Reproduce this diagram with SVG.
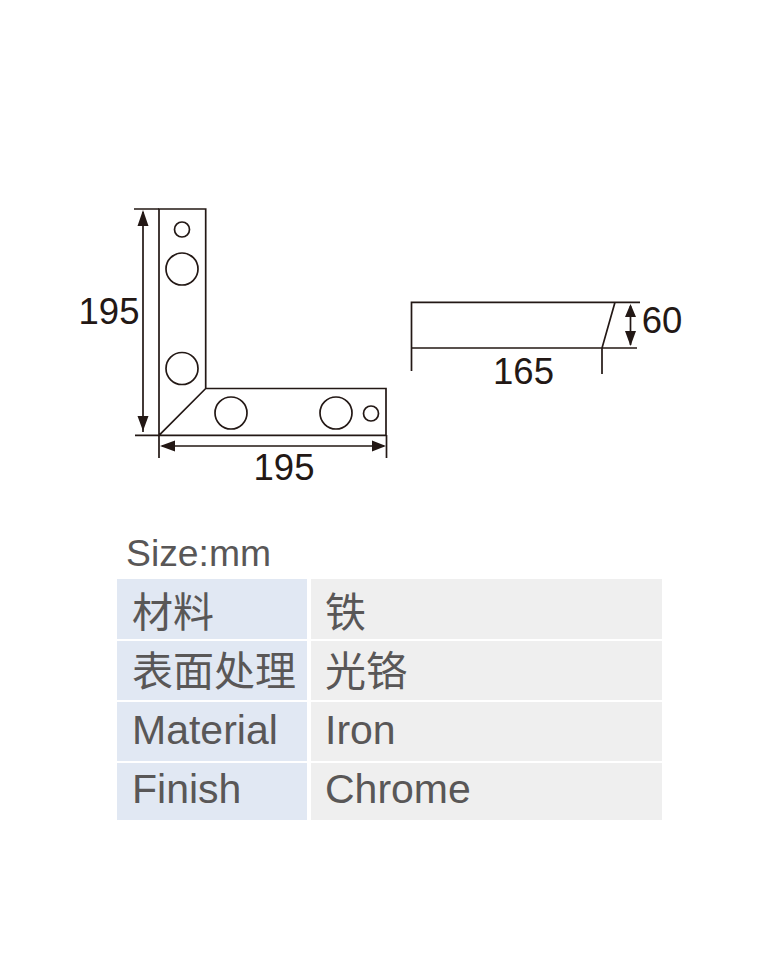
<svg xmlns="http://www.w3.org/2000/svg" width="767" height="972" viewBox="0 0 767 972">
<defs>
<style>
.l{fill:none;stroke:#231815;stroke-width:1.7}
.h{fill:#fff;stroke:#231815;stroke-width:1.7}
.a{fill:#231815;stroke:none}
.d{font-family:"Liberation Sans",Arial,sans-serif;font-size:36.500px;fill:#231815;text-anchor:middle}
.t{font-family:"Liberation Sans","Noto Sans CJK SC",sans-serif;font-size:41px;fill:#595757}
.c{font-family:"Noto Sans CJK SC","Liberation Sans",sans-serif;font-size:41px;fill:#595757}
.b{fill:#e1e8f3}
.g{fill:#efefef}
</style>
</defs>
<rect width="767" height="972" fill="#fff"/>
<g id="bracket">
<path class="l" d="M159 209H205.700V388.500H386V435.300H159ZM205.700 388.500L159 435.300"/>
<circle class="h" cx="182" cy="229.500" r="7.500"/>
<circle class="h" cx="182" cy="269" r="16"/>
<circle class="h" cx="182" cy="368.500" r="16"/>
<circle class="h" cx="231" cy="413" r="16"/>
<circle class="h" cx="336" cy="413" r="16"/>
<circle class="h" cx="371" cy="413.500" r="7.500"/>
</g>
<g id="side-view">
<path class="l" d="M411.500 371V302.300H640M411.500 348H637M615 302.300L602 348V374"/>
</g>
<g id="connectors">
<path class="l" d="M134 209H159M135 435.300H159M143 212V432M159 435V458M386.500 435V458M162 446H384M630.500 306V345"/>
<path class="a" d="M143 210L148.500 226H137.500ZM143 431L137.500 416H148.500ZM160 446L175 440.500V451.500ZM386 446L372 440.500V451.500ZM630.500 304L636 317H625ZM630.500 346L625 331H636Z"/>
</g>
<g id="dimension-labels">
<text class="d" x="109" y="324">195</text>
<text class="d" x="284" y="480">195</text>
<text class="d" x="662" y="333">60</text>
<text class="d" x="523.500" y="384">165</text>
</g>
<g id="table">
<text class="t" x="126" y="566" style="font-size:37.300px">Size:mm</text>
<rect class="b" x="117" y="579" width="190" height="60"/>
<rect class="g" x="311" y="579" width="351" height="60"/>
<rect class="b" x="117" y="641" width="190" height="59"/>
<rect class="g" x="311" y="641" width="351" height="59"/>
<rect class="b" x="117" y="702" width="190" height="59"/>
<rect class="g" x="311" y="702" width="351" height="59"/>
<rect class="b" x="117" y="763" width="190" height="57"/>
<rect class="g" x="311" y="763" width="351" height="57"/>
<text class="c" x="132" y="627">材料</text>
<text class="c" x="325" y="627">铁</text>
<text class="c" x="132" y="686">表面处理</text>
<text class="c" x="325" y="686">光铬</text>
<text class="t" x="132" y="744">Material</text>
<text class="t" x="325" y="744">Iron</text>
<text class="t" x="132" y="803">Finish</text>
<text class="t" x="325" y="803">Chrome</text>
</g>
</svg>
